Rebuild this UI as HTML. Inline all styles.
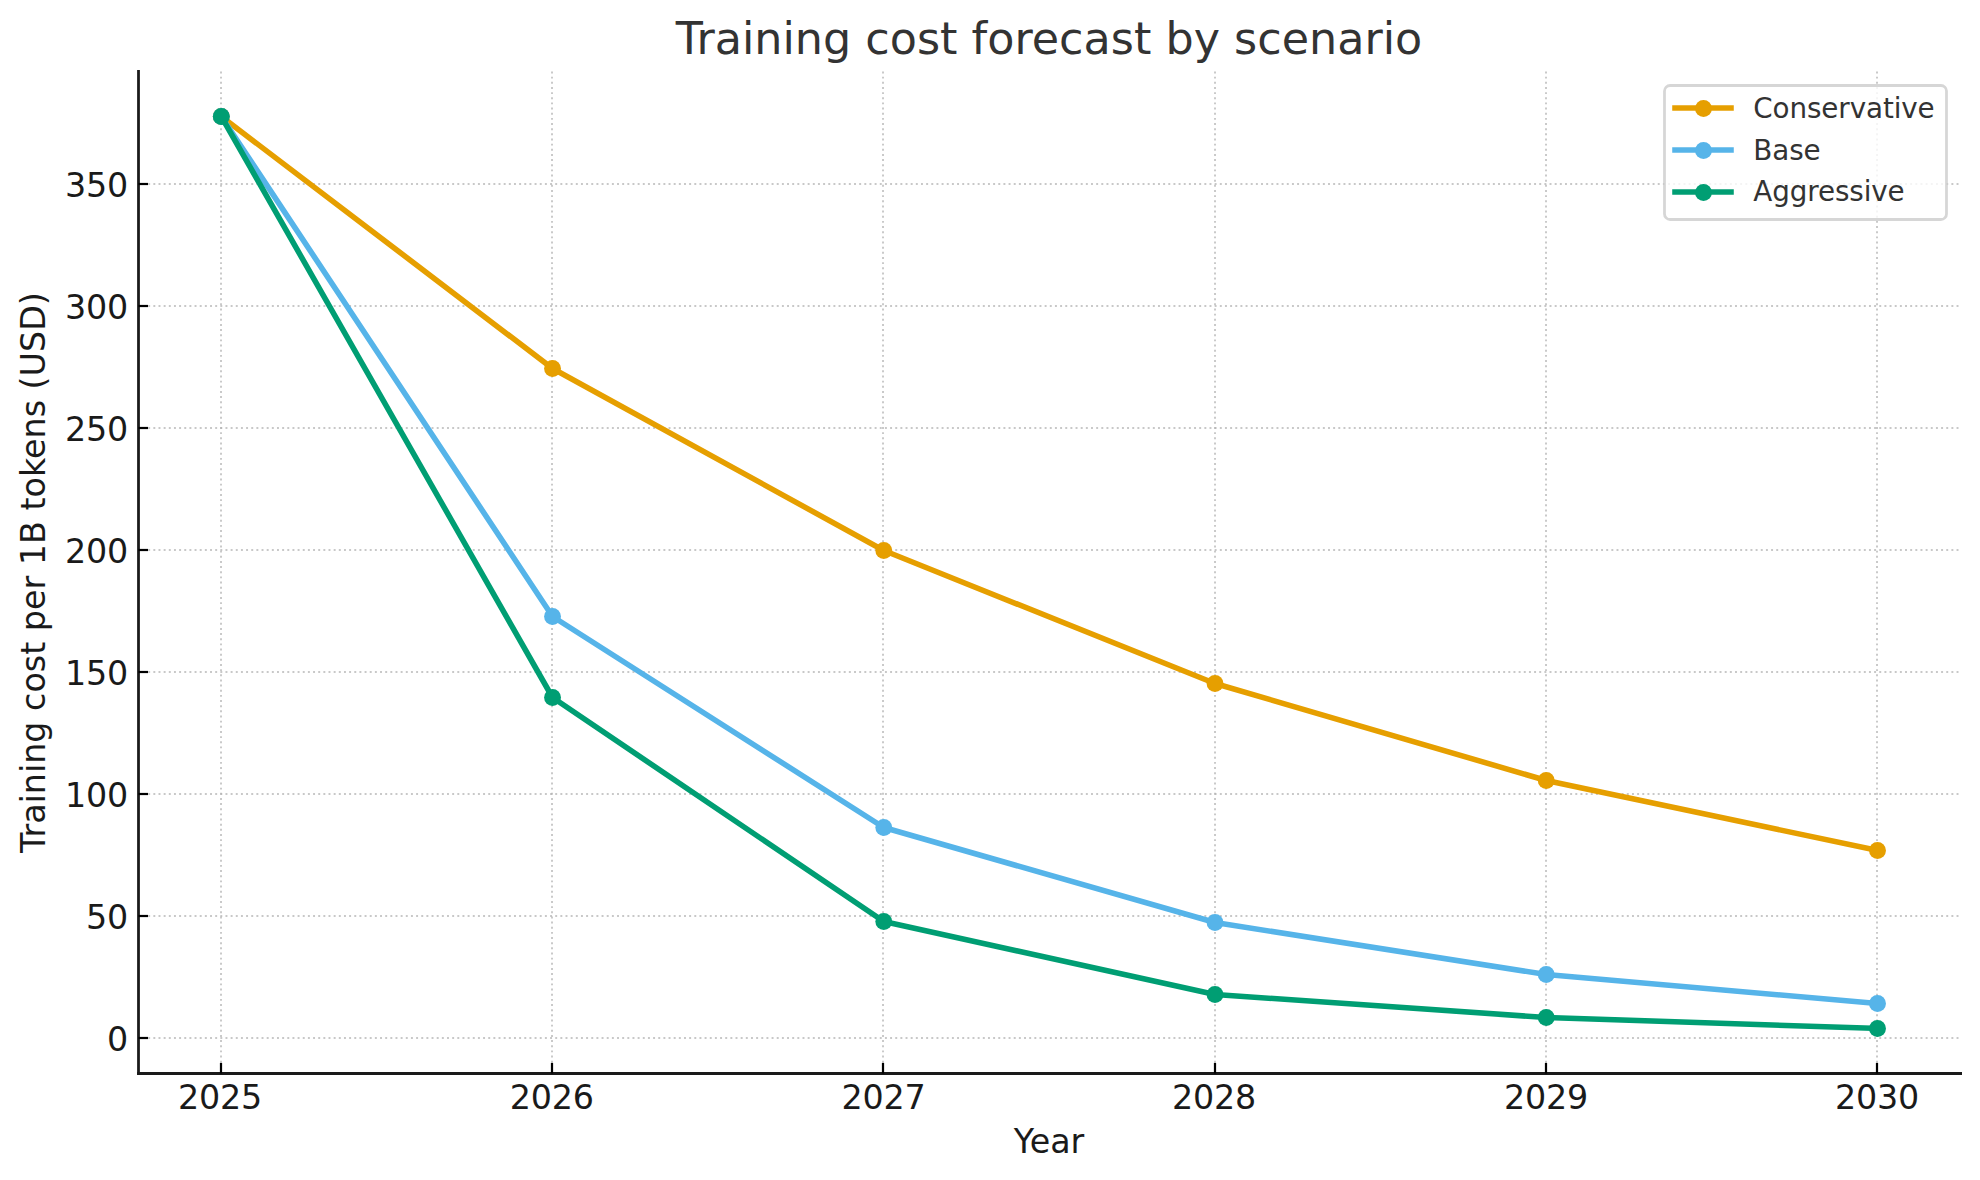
<!DOCTYPE html>
<html><head><meta charset="utf-8"><title>Training cost forecast by scenario</title>
<style>html,body{margin:0;padding:0;background:#fff;overflow:hidden;}svg{display:block;}text{font-family:'DejaVu Sans', 'Liberation Sans', sans-serif;}</style></head><body>
<svg width="1980" height="1180" viewBox="0 0 1980 1180">
<rect x="0" y="0" width="1980" height="1180" fill="#ffffff"/>
<g stroke="#b0b0b0" stroke-opacity="0.70" stroke-width="1.944" stroke-dasharray="1.944 3.208" fill="none">
<line x1="221.00" y1="1073.50" x2="221.00" y2="70.00" stroke-dashoffset="-0.55"/>
<line x1="552.00" y1="1073.50" x2="552.00" y2="70.00" stroke-dashoffset="-0.55"/>
<line x1="883.00" y1="1073.50" x2="883.00" y2="70.00" stroke-dashoffset="-0.55"/>
<line x1="1215.00" y1="1073.50" x2="1215.00" y2="70.00" stroke-dashoffset="-0.55"/>
<line x1="1546.00" y1="1073.50" x2="1546.00" y2="70.00" stroke-dashoffset="-0.55"/>
<line x1="1877.00" y1="1073.50" x2="1877.00" y2="70.00" stroke-dashoffset="-0.55"/>
<line x1="138.20" y1="1038.00" x2="1959.80" y2="1038.00" stroke-dashoffset="0.30"/>
<line x1="138.20" y1="916.00" x2="1959.80" y2="916.00" stroke-dashoffset="0.30"/>
<line x1="138.20" y1="794.00" x2="1959.80" y2="794.00" stroke-dashoffset="0.30"/>
<line x1="138.20" y1="672.00" x2="1959.80" y2="672.00" stroke-dashoffset="0.30"/>
<line x1="138.20" y1="550.00" x2="1959.80" y2="550.00" stroke-dashoffset="0.30"/>
<line x1="138.20" y1="428.00" x2="1959.80" y2="428.00" stroke-dashoffset="0.30"/>
<line x1="138.20" y1="306.00" x2="1959.80" y2="306.00" stroke-dashoffset="0.30"/>
<line x1="138.20" y1="184.00" x2="1959.80" y2="184.00" stroke-dashoffset="0.30"/>
</g>
<polyline points="221.30,116.50 552.54,368.50 883.78,550.50 1215.02,683.50 1546.26,780.50 1877.50,850.50" fill="none" stroke="#E69F00" stroke-width="5.56" stroke-linejoin="round" stroke-linecap="square"/>
<g fill="#E69F00">
<circle cx="221.30" cy="116.50" r="8.45"/>
<circle cx="552.54" cy="368.50" r="8.45"/>
<circle cx="883.78" cy="550.50" r="8.45"/>
<circle cx="1215.02" cy="683.50" r="8.45"/>
<circle cx="1546.26" cy="780.50" r="8.45"/>
<circle cx="1877.50" cy="850.50" r="8.45"/>
</g>
<polyline points="221.30,116.50 552.54,616.50 883.78,827.50 1215.02,922.50 1546.26,974.50 1877.50,1003.50" fill="none" stroke="#56B4E9" stroke-width="5.56" stroke-linejoin="round" stroke-linecap="square"/>
<g fill="#56B4E9">
<circle cx="221.30" cy="116.50" r="8.45"/>
<circle cx="552.54" cy="616.50" r="8.45"/>
<circle cx="883.78" cy="827.50" r="8.45"/>
<circle cx="1215.02" cy="922.50" r="8.45"/>
<circle cx="1546.26" cy="974.50" r="8.45"/>
<circle cx="1877.50" cy="1003.50" r="8.45"/>
</g>
<polyline points="221.30,116.50 552.54,697.50 883.78,921.50 1215.02,994.50 1546.26,1017.50 1877.50,1028.50" fill="none" stroke="#009E73" stroke-width="5.56" stroke-linejoin="round" stroke-linecap="square"/>
<g fill="#009E73">
<circle cx="221.30" cy="116.50" r="8.45"/>
<circle cx="552.54" cy="697.50" r="8.45"/>
<circle cx="883.78" cy="921.50" r="8.45"/>
<circle cx="1215.02" cy="994.50" r="8.45"/>
<circle cx="1546.26" cy="1017.50" r="8.45"/>
<circle cx="1877.50" cy="1028.50" r="8.45"/>
</g>
<g stroke="#1a1a1a" stroke-width="2.78" fill="none">
<line x1="138.5" y1="1074.89" x2="138.5" y2="70.0"/>
<line x1="137.11" y1="1073.5" x2="1962.00" y2="1073.5"/>
</g>
<g stroke="#000" stroke-width="2.22">
<line x1="221.00" y1="1073.5" x2="221.00" y2="1062.90"/>
<line x1="552.00" y1="1073.5" x2="552.00" y2="1062.90"/>
<line x1="883.00" y1="1073.5" x2="883.00" y2="1062.90"/>
<line x1="1215.00" y1="1073.5" x2="1215.00" y2="1062.90"/>
<line x1="1546.00" y1="1073.5" x2="1546.00" y2="1062.90"/>
<line x1="1877.00" y1="1073.5" x2="1877.00" y2="1062.90"/>
<line x1="138.5" y1="1038.00" x2="148.00" y2="1038.00"/>
<line x1="138.5" y1="916.00" x2="148.00" y2="916.00"/>
<line x1="138.5" y1="794.00" x2="148.00" y2="794.00"/>
<line x1="138.5" y1="672.00" x2="148.00" y2="672.00"/>
<line x1="138.5" y1="550.00" x2="148.00" y2="550.00"/>
<line x1="138.5" y1="428.00" x2="148.00" y2="428.00"/>
<line x1="138.5" y1="306.00" x2="148.00" y2="306.00"/>
<line x1="138.5" y1="184.00" x2="148.00" y2="184.00"/>
</g>
<g fill="#1a1a1a" font-size="33.33px" letter-spacing="-0.21">
<text x="220.00" y="1108.6" text-anchor="middle">2025</text>
<text x="551.70" y="1108.6" text-anchor="middle">2026</text>
<text x="883.40" y="1108.6" text-anchor="middle">2027</text>
<text x="1214.00" y="1108.6" text-anchor="middle">2028</text>
<text x="1546.00" y="1108.6" text-anchor="middle">2029</text>
<text x="1877.00" y="1108.6" text-anchor="middle">2030</text>
<text x="128.0" y="1051.00" text-anchor="end">0</text>
<text x="128.0" y="929.00" text-anchor="end">50</text>
<text x="128.0" y="807.00" text-anchor="end">100</text>
<text x="128.0" y="685.00" text-anchor="end">150</text>
<text x="128.0" y="563.00" text-anchor="end">200</text>
<text x="128.0" y="441.00" text-anchor="end">250</text>
<text x="128.0" y="319.00" text-anchor="end">300</text>
<text x="128.0" y="197.00" text-anchor="end">350</text>
</g>
<text x="1049.0" y="1152.8" text-anchor="middle" font-size="33.33px" fill="#1a1a1a">Year</text>
<text transform="translate(44.6,572.6) rotate(-90)" x="0" y="0" text-anchor="middle" font-size="33.33px" fill="#1a1a1a">Training cost per 1B tokens (USD)</text>
<text x="1049.0" y="53.6" text-anchor="middle" font-size="44.44px" fill="#333333">Training cost forecast by scenario</text>
<rect x="1664.5" y="85.5" width="282" height="134" rx="5.56" ry="5.56" fill="#ffffff" fill-opacity="0.8" stroke="#cccccc" stroke-opacity="0.8" stroke-width="2.78"/>
<line x1="1675" y1="108.00" x2="1731" y2="108.00" stroke="#E69F00" stroke-width="5.56" stroke-linecap="square"/>
<circle cx="1703.5" cy="108.50" r="8.45" fill="#E69F00"/>
<text x="1753.3" y="117.80" font-size="27.78px" letter-spacing="-0.1" fill="#333333">Conservative</text>
<line x1="1675" y1="150.00" x2="1731" y2="150.00" stroke="#56B4E9" stroke-width="5.56" stroke-linecap="square"/>
<circle cx="1703.5" cy="150.50" r="8.45" fill="#56B4E9"/>
<text x="1753.3" y="159.70" font-size="27.78px" letter-spacing="-0.1" fill="#333333">Base</text>
<line x1="1675" y1="192.00" x2="1731" y2="192.00" stroke="#009E73" stroke-width="5.56" stroke-linecap="square"/>
<circle cx="1703.5" cy="192.50" r="8.45" fill="#009E73"/>
<text x="1753.3" y="200.70" font-size="27.78px" letter-spacing="-0.1" fill="#333333">Aggressive</text>
</svg></body></html>
